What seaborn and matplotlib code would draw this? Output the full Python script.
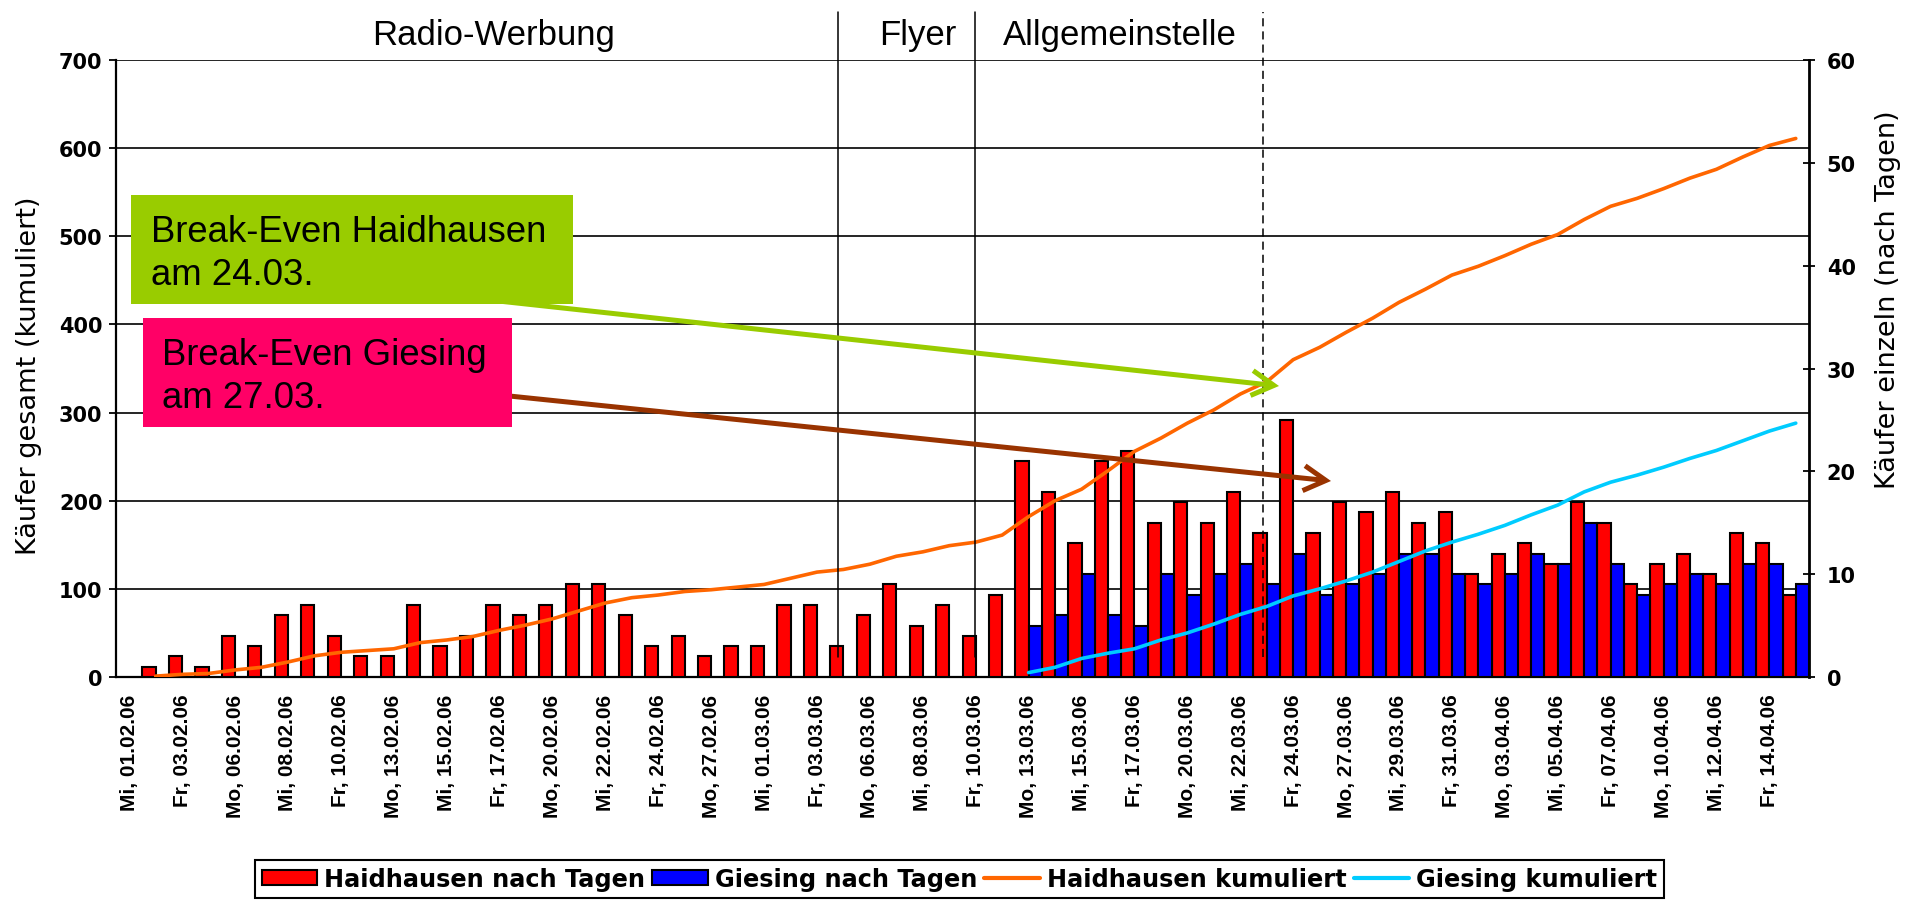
import numpy as np
import pandas as pd
import matplotlib
matplotlib.use("Agg")
import matplotlib.pyplot as plt
import seaborn as sns
from matplotlib.patches import Rectangle, Patch, FancyArrowPatch, ArrowStyle
from matplotlib.lines import Line2D
from matplotlib.font_manager import FontProperties

# ---------------- data ----------------
tage = ["Mi, 01.02.06", "Do, 02.02.06", "Fr, 03.02.06", "Sa, 04.02.06",
        "Mo, 06.02.06", "Di, 07.02.06", "Mi, 08.02.06", "Do, 09.02.06", "Fr, 10.02.06", "Sa, 11.02.06",
        "Mo, 13.02.06", "Di, 14.02.06", "Mi, 15.02.06", "Do, 16.02.06", "Fr, 17.02.06", "Sa, 18.02.06",
        "Mo, 20.02.06", "Di, 21.02.06", "Mi, 22.02.06", "Do, 23.02.06", "Fr, 24.02.06", "Sa, 25.02.06",
        "Mo, 27.02.06", "Di, 28.02.06", "Mi, 01.03.06", "Do, 02.03.06", "Fr, 03.03.06", "Sa, 04.03.06",
        "Mo, 06.03.06", "Di, 07.03.06", "Mi, 08.03.06", "Do, 09.03.06", "Fr, 10.03.06", "Sa, 11.03.06",
        "Mo, 13.03.06", "Di, 14.03.06", "Mi, 15.03.06", "Do, 16.03.06", "Fr, 17.03.06", "Sa, 18.03.06",
        "Mo, 20.03.06", "Di, 21.03.06", "Mi, 22.03.06", "Do, 23.03.06", "Fr, 24.03.06", "Sa, 25.03.06",
        "Mo, 27.03.06", "Di, 28.03.06", "Mi, 29.03.06", "Do, 30.03.06", "Fr, 31.03.06", "Sa, 01.04.06",
        "Mo, 03.04.06", "Di, 04.04.06", "Mi, 05.04.06", "Do, 06.04.06", "Fr, 07.04.06", "Sa, 08.04.06",
        "Mo, 10.04.06", "Di, 11.04.06", "Mi, 12.04.06", "Do, 13.04.06", "Fr, 14.04.06", "Sa, 15.04.06"]

# daily buyers Haidhausen (first day without data)
haidhausen_tag = [None, 1, 2, 1, 4, 3, 6, 7, 4, 2, 2, 7, 3, 4, 7, 6, 7, 9, 9, 6, 3,
                  4, 2, 3, 3, 7, 7, 3, 6, 9, 5, 7, 4, 8,
                  21, 18, 13, 21, 22, 15, 17, 15, 18, 14, 25, 14, 17, 16, 18, 15,
                  16, 10, 12, 13, 11, 17, 15, 9, 11, 12, 10, 14, 13, 8]
# daily buyers Giesing (from Mo, 13.03.06 on)
giesing_start = "Mo, 13.03.06"
giesing_tag = [5, 6, 10, 6, 5, 10, 8, 10, 11, 9, 12, 8, 9, 10, 12,
               12, 10, 9, 10, 12, 11, 15, 11, 8, 9, 10, 9, 11, 11, 9]

# cumulative buyers
haidhausen_kum_start = "Do, 02.02.06"
haidhausen_kum = [1, 3, 4, 8, 11, 17, 24, 28, 30, 32, 39, 42, 46, 53, 59, 66, 75, 84, 90, 93,
                  97, 99, 102, 105, 112, 119, 122, 128, 137, 142, 149, 153, 161,
                  182, 200, 213, 234, 256, 271, 288, 303, 321, 335, 360, 374, 391, 407,
                  425, 440, 456, 466, 478, 491, 502, 519, 534, 543, 554, 566, 576, 590, 603, 611]
giesing_kum = [5, 11, 21, 27, 32, 42, 50, 60, 71, 80, 92, 100, 109, 119, 131,
               143, 153, 162, 172, 184, 195, 210, 221, 229, 238, 248, 257, 268, 279, 288]

serien = ["Haidhausen nach Tagen", "Giesing nach Tagen", "Haidhausen kumuliert", "Giesing kumuliert"]
farben = ["#FF0000", "#0000FF", "#FF6600", "#00CCFF"]

phasen = ["Radio-Werbung", "Flyer", "Allgemeinstelle"]
phasen_x = [13.79, 29.81, 37.46]
phasen_grenzen = [26.81, 31.97]
break_even_linie = 42.86

# ---------------- figure ----------------
W, H = 1919, 903
sns.set_style("white")
plt.rcParams["font.family"] = ["DejaVu Sans"]
plt.rcParams["text.color"] = "black"
plt.rcParams["axes.labelcolor"] = "black"
plt.rcParams["xtick.color"] = "black"
plt.rcParams["ytick.color"] = "black"

fig = plt.figure(figsize=(W / 100, H / 100), dpi=100)
left, right, top, bottom = 116, 1809, 61, 678
rect = [left / W, 1 - bottom / H, (right - left) / W, (bottom - top) / H]
ax = fig.add_axes(rect, zorder=1)
ax2 = ax.twinx()
ax2.set_zorder(2)
ax2.patch.set_visible(False)
ax3 = fig.add_axes(rect, sharex=ax, sharey=ax, zorder=3)
ax3.set_axis_off()

# bars (right axis)
n = len(tage)
rows = []
for t, v in zip(tage, haidhausen_tag):
    if v is not None:
        rows.append((t, serien[0], v))
g0 = tage.index(giesing_start)
for t, v in zip(tage[g0:], giesing_tag):
    rows.append((t, serien[1], v))
df = pd.DataFrame(rows, columns=["Tag", "Serie", "Wert"])

sns.barplot(data=df, x="Tag", y="Wert", hue="Serie", order=tage,
            hue_order=serien[:2], palette=farben[:2], saturation=1,
            width=1.0, dodge=True, edgecolor="black", linewidth=1.5,
            errorbar=None, legend=False, ax=ax2)

# cumulative lines (left axis, overlay)
h0 = tage.index(haidhausen_kum_start)
pos = np.arange(n)
sns.lineplot(x=pos[h0:h0 + len(haidhausen_kum)], y=haidhausen_kum, color=farben[2],
             linewidth=2.6, sort=False, ax=ax3, legend=False)
sns.lineplot(x=pos[g0:g0 + len(giesing_kum)], y=giesing_kum, color=farben[3],
             linewidth=2.6, sort=False, ax=ax3, legend=False)

# limits
ax.set_xlim(-0.5, n - 0.5)
ax.set_ylim(0, 700)
ax2.set_ylim(0, 60)
ax3.set_ylim(0, 700)

# y axes
ax.set_yticks(np.arange(0, 701, 100))
ax.yaxis.grid(True, color="black", linewidth=1.2)
ax.xaxis.grid(False)
ax.set_axisbelow(True)
ax.tick_params(axis="y", direction="out", length=4.8, width=1.3, pad=5.0, colors="black")
for lab in ax.get_yticklabels():
    lab.set_fontweight("bold")
    lab.set_fontsize(15)

ax2.set_yticks(np.arange(0, 61, 10))
ax2.tick_params(axis="y", direction="inout", length=8.5, width=1.3, pad=8.5, colors="black")
for lab in ax2.get_yticklabels():
    lab.set_fontweight("bold")
    lab.set_fontsize(15)
ax2.grid(False)

# x axis: ticks at category boundaries, labels every second day
ax.set_xticks(np.arange(-0.5, n, 1.0))
ax.set_xticks(np.arange(0, n, 2), labels=[tage[i] for i in range(0, n, 2)], minor=True,
              rotation=90, fontsize=15, fontweight="bold", family="Liberation Sans")
ax.tick_params(axis="x", which="major", direction="out", length=4.3, width=1.3,
               labelbottom=False)
ax.tick_params(axis="x", which="minor", length=0, pad=12)

# labels
ax.set_xlabel("")
ax2.set_xlabel("")
ax.set_ylabel("Käufer gesamt (kumuliert)", fontsize=19.5)
ax.yaxis.set_label_coords(-0.0514, 0.49)
ax2.set_ylabel("Käufer einzeln (nach Tagen)", fontsize=19.5, rotation=90)
ax2.yaxis.set_label_coords(1.0467, 0.613)
ax2.yaxis.label.set_va("center")
ax2.yaxis.label.set_ha("center")
ax.yaxis.label.set_va("center")

# spines
for s in ["top", "right"]:
    ax.spines[s].set_visible(False)
ax.spines["left"].set_linewidth(1.6)
ax.spines["bottom"].set_linewidth(1.6)
ax.spines["left"].set_color("black")
ax.spines["bottom"].set_color("black")
for s in ["top", "left", "bottom"]:
    ax2.spines[s].set_visible(False)
ax2.spines["right"].set_linewidth(2.0)
ax2.spines["right"].set_color("black")

# phase separators and break-even line
tr = ax3.get_xaxis_transform()
for xg in phasen_grenzen:
    ax3.plot([xg, xg], [0.032, 1.078], transform=tr, clip_on=False, color="black", lw=1.1)
ax3.plot([break_even_linie, break_even_linie], [0.032, 1.078], transform=tr, clip_on=False,
         color="black", lw=1.1, linestyle=(0, (5.3, 3.3)))
for name, xp in zip(phasen, phasen_x):
    ax3.text(xp, 1.026, name, transform=tr, ha="center", va="baseline",
             fontsize=25, family="Liberation Sans", color="black", clip_on=False)

# annotation boxes and arrows (figure pixel coordinates)
def fx(x):
    return x / W

def fy(y):
    return 1 - y / H

for (xa, ya, xb, yb, col) in [(480, 300, 1279, 387, "#99CC00"),
                              (490, 395, 1331, 482, "#993300")]:
    arr = FancyArrowPatch((fx(xa), fy(ya)), (fx(xb), fy(yb)), transform=fig.transFigure,
                          arrowstyle=ArrowStyle("->", head_length=16, head_width=9),
                          mutation_scale=1, color=col, lw=3.6, shrinkA=0, shrinkB=0,
                          joinstyle="miter", capstyle="butt", zorder=10)
    fig.add_artist(arr)

boxes = [(131, 196, 573, 305, "#99CC00", 151, ["Break-Even Haidhausen", "am 24.03."], [241.7, 285]),
         (143, 319, 512, 428, "#FF0066", 162, ["Break-Even Giesing", "am 27.03."], [365, 408])]
for (x0, y0, x1, y1, col, tx, lines, bls) in boxes:
    r = Rectangle((fx(x0), fy(y1)), fx(x1) - fx(x0), fy(y0) - fy(y1), transform=fig.transFigure,
                  facecolor=col, edgecolor="none", zorder=11)
    fig.add_artist(r)
    for txt, bl in zip(lines, bls):
        fig.text(fx(tx), fy(bl), txt, ha="left", va="baseline", fontsize=26.3,
                 family="Liberation Sans", color="black", zorder=12)

# legend
handles = [Patch(facecolor=farben[0], edgecolor="black", linewidth=1.5),
           Patch(facecolor=farben[1], edgecolor="black", linewidth=1.5),
           Line2D([], [], color=farben[2], lw=3),
           Line2D([], [], color=farben[3], lw=3)]
leg = fig.legend(handles, serien, loc="center", bbox_to_anchor=(0.5, fy(880)), ncol=4,
                 frameon=True, fancybox=False, edgecolor="black", framealpha=1,
                 prop=FontProperties(family="DejaVu Sans", weight="bold", size=17.3),
                 handlelength=2.3, handleheight=0.6, handletextpad=0.3,
                 columnspacing=0.3, borderpad=0.3, borderaxespad=0)
leg.get_frame().set_linewidth(1.5)

fig.savefig("out.png", dpi=100)
